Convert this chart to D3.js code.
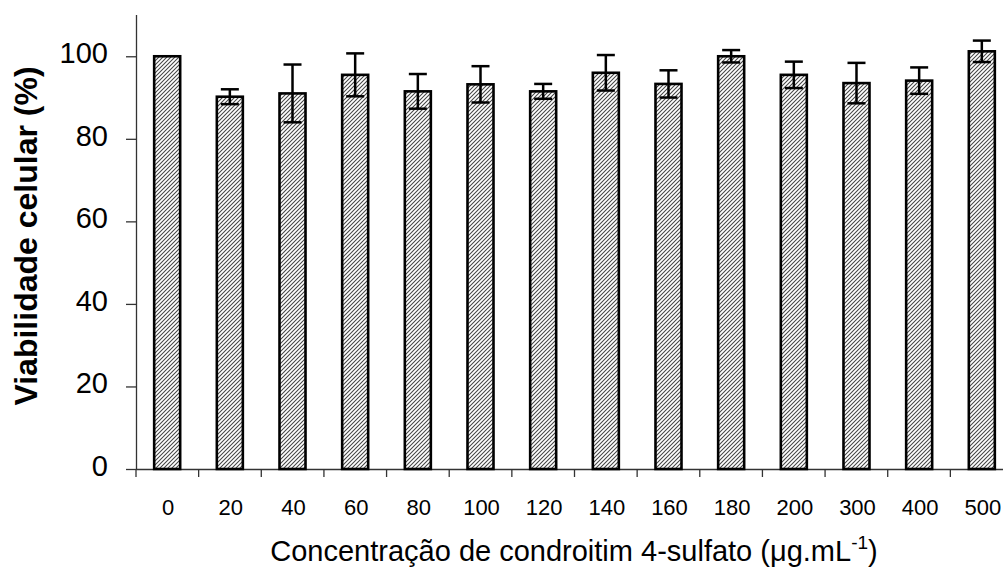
<!DOCTYPE html>
<html>
<head>
<meta charset="utf-8">
<script src="https://cdn.jsdelivr.net/npm/d3@7"></script>
<style>
  html, body { margin: 0; padding: 0; background: #fff; }
  svg { display: block; font-family: "Liberation Sans", Arial, sans-serif; }
</style>
</head>
<body>
<svg id="chart" width="1003" height="570"></svg>
<script>
const categories = ["0", "20", "40", "60", "80", "100", "120", "140", "160", "180", "200", "300", "400", "500"];
const viability = [100, 90.2, 91.0, 95.5, 91.5, 93.2, 91.5, 96.0, 93.3, 100, 95.5, 93.5, 94.1, 101.2];
const errors = [0, 1.8, 7.0, 5.2, 4.2, 4.4, 1.8, 4.3, 3.3, 1.5, 3.2, 4.9, 3.2, 2.6];
const yTicks = [0, 20, 40, 60, 80, 100];
const xTitle = "Concentração de condroitim 4-sulfato (μg.mL";
const yTitle = "Viabilidade celular (%)";

const svg = d3.select("#chart");
const mLeft = 136, mRight = 1013, mTop = 15, mBottom = 469;

const x = d3.scaleBand().domain(categories).range([mLeft, mRight]).paddingInner(0.585).paddingOuter(0.29);
const xTickScale = d3.scaleBand().domain(categories).range([mLeft, mRight]);
const y = d3.scaleLinear().domain([0, 110]).range([mBottom, mTop]);

const defs = svg.append("defs");
const pat = defs.append("pattern").attr("id", "hatch").attr("patternUnits", "userSpaceOnUse")
  .attr("width", 4).attr("height", 4);
pat.append("rect").attr("width", 4).attr("height", 4).attr("fill", "#fff");
pat.append("path").attr("d", "M-1,1 l2,-2 M0,4 l4,-4 M3,5 l2,-2")
  .attr("stroke", "#444").attr("stroke-width", 1.05);

// Y axis
const yAxis = svg.append("g").attr("transform", `translate(${mLeft},0)`)
  .call(d3.axisLeft(y).tickValues(yTicks).tickSize(10).tickPadding(18).tickSizeOuter(0));
yAxis.select(".domain").attr("d", `M0.5,${mTop}V${mBottom}`).attr("stroke", "#333").attr("stroke-width", 1.3);
yAxis.selectAll(".tick line").attr("stroke", "#333").attr("stroke-width", 1.3);
yAxis.selectAll(".tick text").attr("font-size", 29).attr("fill", "#000")
  .attr("font-family", "Liberation Sans, Arial, sans-serif").attr("dy", "0.22em");

// X axis
const xAxisG = svg.append("g").attr("transform", `translate(0,${mBottom})`);
xAxisG.append("line").attr("x1", mLeft).attr("x2", 1003).attr("y1", 0.5).attr("y2", 0.5)
  .attr("stroke", "#333").attr("stroke-width", 1.3);
xAxisG.selectAll("line.xt").data(categories).enter().append("line").attr("class", "xt")
  .attr("x1", d => xTickScale(d)).attr("x2", d => xTickScale(d))
  .attr("y1", 0).attr("y2", 8).attr("stroke", "#333").attr("stroke-width", 1.3);
xAxisG.selectAll("text.xl").data(categories).enter().append("text").attr("class", "xl")
  .attr("x", d => x(d) + x.bandwidth() / 2 + 1).attr("y", 46)
  .attr("text-anchor", "middle").attr("font-size", 22).attr("fill", "#000")
  .text(d => d);

// Bars
svg.append("g").selectAll("rect").data(categories).enter().append("rect")
  .attr("x", d => x(d)).attr("width", x.bandwidth())
  .attr("y", (d, i) => y(viability[i])).attr("height", (d, i) => mBottom - y(viability[i]))
  .attr("fill", "url(#hatch)").attr("stroke", "#000").attr("stroke-width", 2.6);

// Error bars
const eb = svg.append("g").attr("stroke", "#000").attr("stroke-width", 2.5).attr("fill", "none");
categories.forEach((c, i) => {
  if (!errors[i]) return;
  const cx = x(c) + x.bandwidth() / 2;
  const y1 = y(viability[i] + errors[i]), y2 = y(viability[i] - errors[i]);
  eb.append("line").attr("x1", cx).attr("x2", cx).attr("y1", y1).attr("y2", y2);
  eb.append("line").attr("x1", cx - 9).attr("x2", cx + 9).attr("y1", y1).attr("y2", y1);
  eb.append("line").attr("x1", cx - 9).attr("x2", cx + 9).attr("y1", y2).attr("y2", y2);
});

// Titles
const xt = svg.append("text").attr("x", 574).attr("y", 561).attr("text-anchor", "middle")
  .attr("font-size", 29).attr("fill", "#000");
xt.append("tspan").text(xTitle);
xt.append("tspan").attr("font-size", 19).attr("dy", -12).text("-1");
xt.append("tspan").attr("dy", 12).text(")");

svg.append("text").attr("transform", "translate(37,236) rotate(-90)").attr("text-anchor", "middle")
  .attr("font-size", 32).attr("font-weight", "bold").attr("fill", "#000").text(yTitle);
</script>
</body>
</html>
